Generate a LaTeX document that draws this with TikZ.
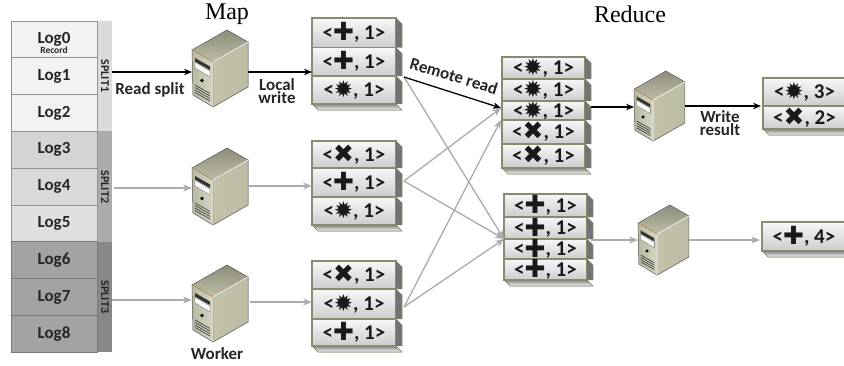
\documentclass[tikz,border=0pt]{standalone}
\usepackage{fontspec}
\setmainfont{Carlito}
\newfontfamily\titlefont{Liberation Serif}
\newfontfamily\symfont{DejaVu Sans}
\usetikzlibrary{arrows.meta}
\definecolor{frameol}{HTML}{8A8A6E}
\definecolor{bodyl}{HTML}{C4C3AA}
\definecolor{bodyd}{HTML}{8E8D7C}
\definecolor{shade}{HTML}{757575}
\definecolor{gline}{HTML}{ABABAB}
\newcommand{\Pl}{\smash{\raisebox{-1.2pt}{\symfont\fontsize{25}{25}\selectfont\char"271A}}}
\newcommand{\Xx}{\smash{\raisebox{-1pt}{\symfont\fontsize{25}{25}\selectfont\char"2716}}}
\newcommand{\As}{\smash{\raisebox{-1pt}{\symfont\fontsize{23}{23}\selectfont\char"2739}}}
\tikzset{
  x=1pt,y=-1pt,
  logrow/.style={draw=#1,line width=1pt,minimum width=86pt,minimum height=36.8pt,inner sep=0pt,font=\bfseries\fontsize{17}{17}\selectfont,text=black!85},
  striplbl/.style={rotate=-90,font=\bfseries\fontsize{12}{12}\selectfont,inner sep=0pt,text=black!85},
  lbl/.style={font=\bfseries\fontsize{17}{13.5}\selectfont,align=center,inner sep=0pt,text=black!85},
  title/.style={font=\titlefont\fontsize{24}{24}\selectfont,inner sep=0pt},
  kvtext/.style={font=\bfseries\fontsize{21}{21}\selectfont,inner sep=0pt,text=black!90},
  blk/.style={black,line width=1.3pt,-{Stealth[length=8pt,width=6.5pt]}},
  gry/.style={gline,line width=1.3pt,-{Stealth[length=9pt,width=7pt]}},
  srv/.style={minimum width=0pt,minimum height=0pt,inner sep=0pt,draw=none},
}
% server: #1 left x, #2 apex y, #3 scale, #4 name
\newcommand{\server}[4]{%
\begin{scope}[shift={(#1,#2)},x=#3pt,y=-#3pt]
 \fill[left color=bodyl,right color=bodyl!85!bodyd,draw=black!60,line width=.5pt] (21,32)--(56,12)--(56,57)--(21,77)--cycle;
 \fill[top color=bodyd,bottom color=bodyl!90!bodyd,draw=black!60,line width=.5pt] (0,20)--(35,0)--(56,12)--(21,32)--cycle;
 \fill[left color=bodyl!80!bodyd,right color=bodyl!70!white,draw=black!60,line width=.5pt] (0,20)--(21,32)--(21,77)--(1,65)--cycle;
 \draw[white,line width=.8pt] (21,32)--(56,12) (21,32)--(21,77);
 \draw[brown!70!white,line width=.6pt] (0,20)--(21,32);
 \fill[black!80] (3,28)--(18,36.5)--(18,40)--(3,31.5)--cycle;
 \fill[white!90!bodyl,draw=black!60,line width=.3pt] (3,32)--(18,41)--(18,47)--(3,38)--cycle;
 \draw[black,line width=.8pt] (10,50.5) circle (1.2);
 \draw[black!80,line width=.6pt] (3,55)--(18,63.5) (3,57.5)--(18,66) (3,60)--(18,68.5) (3,62.5)--(18,71);
 \node[srv] (#4) at (28,38) {};
 \coordinate (#4w) at (0,42);
 \coordinate (#4e) at (56,42);
\end{scope}}
% kv row
\newcommand{\kvrow}[8]{%
 \fill[top color=black!3,bottom color=black!20] (#2,#4) rectangle (#3,#5);
 \draw[frameol,line width=1.1pt] (#2,#4) rectangle (#3,#5);
 \fill[black!55] (#3,#4)--(#3+6,#4+6)--(#3+6,#5)--(#3,#5)--cycle;
 \draw[frameol,line width=.7pt] (#3,#4)--(#3+6,#4+6)--(#3+6,#5);
 \node[kvtext] (#1) at ({(#2+#3)/2},{(#4+#5)/2+1.5}) {<#7, #8>};
}
\newcommand{\kvbase}[3]{%
 \fill[shade] (#1,#3)--(#1+6,#3+6)--(#2+6,#3+6)--(#2,#3)--cycle;
 \draw[frameol,line width=.7pt] (#2,#3)--(#2+6,#3+6);
 \draw[frameol,line width=.7pt] (#1,#3)--(#1+6,#3+6)--(#2+6,#3+6);
}
\begin{document}
\begin{tikzpicture}
\useasboundingbox (0,0) rectangle (844,365);
\fill[white] (0,0) rectangle (844,365);
% strips
\fill[black!14] (97,20.5) rectangle (112,131);
\fill[black!33] (97,131) rectangle (112,242);
\fill[black!47] (97,242) rectangle (112,352);
% logs
\foreach \n/\yy/\c/\e in {0/20.5/black!5/black!42,1/57.3/black!5/black!42,2/94.1/black!5/black!42,3/130.9/black!17/black!42,4/167.7/black!15/black!42,5/204.5/black!12/black!42,6/241.3/black!36/black!52,7/278.1/black!36/black!52,8/314.9/black!36/black!52}{
 \node[logrow=\e,fill=\c,anchor=north west] (log\n) at (10.5,\yy) {Log\n};
}
\node[font=\bfseries\fontsize{9.5}{9.5}\selectfont,inner sep=0pt,text=black!85] (rec) at (54,50) {Record};
\node[striplbl] (s1) at (105,76) {SPLIT1};
\node[striplbl] (s2) at (105,187) {SPLIT2};
\node[striplbl] (s3) at (105,297) {SPLIT3};
\coordinate (r1) at (112,72);
\coordinate (r2) at (114,188);
\coordinate (r3) at (112,300);
% titles
\node[title] (map) at (227,14) {Map};
\node[title] (red) at (630,14) {Reduce};
% boxes
\kvbase{312}{396}{104}
\kvrow{a1}{312}{396}{18}{47.5}{}{\Pl}{1}
\kvrow{a2}{312}{396}{47.5}{76}{}{\Pl}{1}
\kvrow{a3}{312}{396}{76}{104}{}{\As}{1}
\kvbase{312}{396}{225}
\kvrow{b1}{312}{396}{141}{168}{}{\Xx}{1}
\kvrow{b2}{312}{396}{168}{197}{}{\Pl}{1}
\kvrow{b3}{312}{396}{197}{225}{}{\As}{1}
\kvbase{312}{396}{346}
\kvrow{c1}{312}{396}{261}{289}{}{\Xx}{1}
\kvrow{c2}{312}{396}{289}{319}{}{\As}{1}
\kvrow{c3}{312}{396}{319}{346}{}{\Pl}{1}
\kvbase{502}{585}{168}
\kvrow{d1}{502}{585}{57}{79}{}{\As}{1}
\kvrow{d2}{502}{585}{79}{101}{}{\As}{1}
\kvrow{d3}{502}{585}{101}{120}{}{\As}{1}
\kvrow{d4}{502}{585}{120}{144}{}{\Xx}{1}
\kvrow{d5}{502}{585}{144}{168}{}{\Xx}{1}
\kvbase{504}{587}{280}
\kvrow{e1}{504}{587}{194}{217}{}{\Pl}{1}
\kvrow{e2}{504}{587}{217}{239}{}{\Pl}{1}
\kvrow{e3}{504}{587}{239}{259}{}{\Pl}{1}
\kvrow{e4}{504}{587}{259}{280}{}{\Pl}{1}
\kvbase{763}{846}{129}
\kvrow{f1}{763}{846}{78}{106}{}{\As}{3}
\kvrow{f2}{763}{846}{106}{129}{}{\Xx}{2}
\kvbase{762}{846}{251}
\kvrow{g1}{762}{846}{222}{251}{}{\Pl}{4}
% servers
\server{192}{30}{1}{w1}
\server{192}{148}{1}{w2}
\server{192}{265}{1}{w3}
\server{634}{71}{.91}{w4}
\server{638}{205}{.91}{w5}
% connector ends
\coordinate (ao) at (404,77);
\coordinate (bo) at (404,181);
\coordinate (co) at (404,307);
\coordinate (di) at (501,108);
\coordinate (dj) at (501,120);
\coordinate (ei) at (504,239);
\coordinate (q1) at (248,72);
\coordinate (q2) at (248,186);
\coordinate (q3) at (250,302);
\coordinate (m1) at (312,72);
\coordinate (m2) at (312,186);
\coordinate (m3) at (312,302);
\coordinate (d4o) at (591,107);
\coordinate (e5o) at (591,240);
\coordinate (t4) at (685,106);
\coordinate (t5) at (689,240);
\coordinate (u4) at (761,106);
\coordinate (u5) at (760,240);
% grey connectors
\draw[gry] (r2) -- (r2 -| w2w);
\draw[gry] (r3) -- (r3 -| w3w);
\draw[gry] (q2) -- (m2);
\draw[gry] (q3) -- (m3);
\draw[gry] (ao) -- (ei);
\draw[gry] (bo) -- (di);
\draw[gry] (bo) -- (ei);
\draw[gry] (co) -- (dj);
\draw[gry] (co) -- (ei);
\draw[gry] (e5o) -- (e5o -| w5w);
\draw[gry] (t5) -- (u5);
% black connectors
\draw[blk] (r1) -- (r1 -| w1w);
\draw[blk] (q1) -- (m1);
\draw[blk] (ao) -- (di);
\draw[blk] (d4o) -- (d4o -| w4w);
\draw[blk] (t4) -- (u4);
% labels
\node[lbl] (rs) at (150,90) {Read split};
\node[lbl] (lw) at (277,91) {Local\\write};
\node[lbl,rotate=-17] (rr) at (454,76) {Remote read};
\node[lbl] (wr) at (720,123) {Write\\result};
\node[lbl] (wk) at (217,354) {Worker};
\end{tikzpicture}
\end{document}
